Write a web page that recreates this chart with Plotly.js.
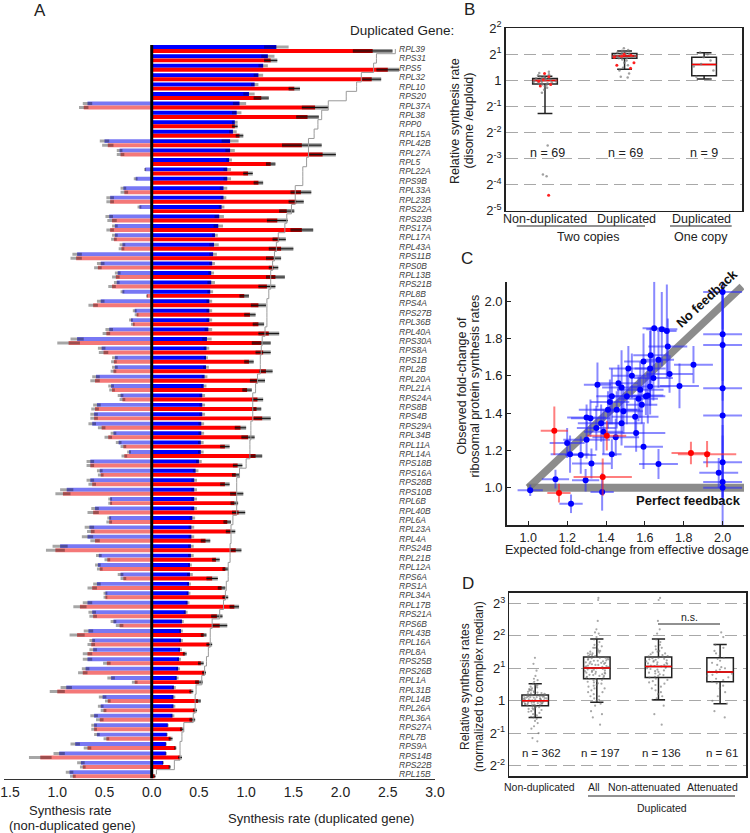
<!DOCTYPE html>
<html><head><meta charset="utf-8">
<script src="https://cdn.plot.ly/plotly-3.0.1.min.js"></script>
<style>html,body{margin:0;padding:0;background:#fff}#chart{width:750px;height:833px}</style>
</head><body><div id="chart"></div>
<script>
// ---------- Panel A data ----------
const genes = ["RPL39","RPS31","RPS5","RPL32","RPL10","RPS20","RPL37A","RPL38","RPP0","RPL15A","RPL42B","RPL27A","RPL5","RPL22A","RPS9B","RPL33A","RPL23B","RPS22A","RPS23B","RPS17A","RPL17A","RPL43A","RPS11B","RPS0B","RPL13B","RPS21B","RPL8B","RPS4A","RPS27B","RPL36B","RPL40A","RPS30A","RPS8A","RPS1B","RPL2B","RPL20A","RPL21A","RPS24A","RPS8B","RPS4B","RPS29A","RPL34B","RPL11A","RPL14A","RPS18B","RPS16A","RPS28B","RPS10B","RPL6B","RPL40B","RPL6A","RPL23A","RPL4A","RPS24B","RPL21B","RPL12A","RPS6A","RPS1A","RPL34A","RPL17B","RPS21A","RPS6B","RPL43B","RPL16A","RPL8A","RPS25B","RPS26B","RPL1A","RPL31B","RPL14B","RPL26A","RPL36A","RPS27A","RPL7B","RPS9A","RPS14B","RPS22B","RPL15B"];
const dupBlue = [1.32,1.23,1.18,1.13,1.09,1.03,0.93,0.90,0.88,0.86,0.83,0.83,0.82,0.80,0.80,0.76,0.76,0.74,0.715,0.705,0.67,0.66,0.65,0.64,0.63,0.63,0.62,0.61,0.61,0.61,0.60,0.585,0.58,0.575,0.575,0.56,0.55,0.535,0.535,0.535,0.525,0.525,0.52,0.52,0.50,0.465,0.45,0.45,0.45,0.45,0.43,0.42,0.42,0.415,0.415,0.405,0.405,0.395,0.39,0.38,0.36,0.32,0.31,0.31,0.30,0.29,0.28,0.265,0.235,0.23,0.23,0.22,0.17,0.16,0.15,0.15,0.12,0.0];
const dupRed = [2.34,1.26,2.50,2.33,1.51,1.16,1.73,1.65,0.88,0.93,1.59,1.81,1.26,1.02,1.13,1.58,1.53,1.43,1.33,1.59,1.35,1.37,1.29,1.29,1.31,1.22,0.98,1.13,1.04,1.13,1.24,1.16,1.18,1.03,1.21,1.12,1.01,1.12,1.11,1.17,0.94,1.02,0.775,1.10,0.91,0.89,0.775,0.90,0.875,0.92,0.80,0.835,0.57,0.89,0.68,0.78,0.64,0.74,0.78,0.875,0.69,0.72,0.55,0.61,0.35,0.52,0.555,0.50,0.42,0.49,0.46,0.43,0.32,0.20,0.25,0.30,0.19,0.03];
const dupBlueErr = [0.13,0.07,0.05,0.05,0.04,0.06,0.07,0.05,0.03,0.04,0.09,0.05,0.03,0.04,0.04,0.04,0.03,0.03,0.05,0.05,0.03,0.05,0.04,0.03,0.03,0.04,0.03,0.03,0.03,0.03,0.04,0.05,0.03,0.02,0.03,0.03,0.03,0.03,0.03,0.03,0.03,0.03,0.03,0.03,0.03,0.03,0.03,0.03,0.03,0.03,0.03,0.03,0.03,0.03,0.03,0.02,0.03,0.02,0.02,0.02,0.02,0.02,0.02,0.02,0.02,0.02,0.02,0.02,0.02,0.02,0.02,0.02,0.01,0.01,0.01,0.01,0.01,0.0];
const dupRedErr = [0.21,0.07,0.12,0.10,0.06,0.08,0.14,0.12,0.03,0.04,0.21,0.14,0.05,0.05,0.05,0.11,0.08,0.08,0.11,0.12,0.07,0.13,0.08,0.05,0.10,0.09,0.05,0.08,0.06,0.06,0.11,0.10,0.08,0.05,0.07,0.08,0.05,0.06,0.05,0.09,0.06,0.07,0.05,0.07,0.05,0.04,0.05,0.07,0.04,0.07,0.04,0.05,0.05,0.06,0.04,0.03,0.06,0.04,0.03,0.05,0.06,0.08,0.03,0.03,0.02,0.03,0.02,0.04,0.02,0.03,0.02,0.03,0.02,0.02,0.01,0.02,0.01,0.01];
const nonBlue = [0,0,0,0,0,0,0.68,0,0,0.01,0.50,0.34,0,0.07,0.17,0.30,0.44,0.13,0.45,0.39,0.39,0.31,0.79,0.54,0.36,0.37,0.31,0.54,0.18,0.22,0.45,0.79,0.53,0.39,0.39,0.59,0.43,0.33,0.58,0.61,0.63,0.405,0.35,0.24,0.65,0.55,0.65,0.90,0.44,0.60,0.45,0.66,0.68,0.97,0.56,0.57,0.33,0.58,0.49,0.68,0.63,0.405,0.67,0.63,0.62,0.68,0.70,0.43,0.905,0.52,0.54,0.61,0.61,0.58,0.81,0.98,0.75,0.87];
const nonRed = [0,0,0,0,0,0,0.72,0,0,0,0.465,0.33,0,0,0,0.29,0.44,0,0.42,0.44,0.40,0.32,0.80,0.57,0.38,0.42,0.05,0.62,0.16,0.20,0.48,0.88,0.51,0.40,0.405,0.60,0.42,0.31,0.60,0.61,0.53,0.46,0.30,0.29,0.65,0.54,0.63,0.94,0.44,0.62,0.45,0.645,0.60,1.02,0.47,0.55,0.30,0.63,0.49,0.76,0.62,0.34,0.79,0.64,0.68,0.475,0.73,0.18,1.0,0.465,0.51,0.55,0.61,0.48,0.68,1.18,0.73,0.835];
const nonBlueErr = [0,0,0,0,0,0,0.05,0,0,0,0.05,0.03,0,0.01,0.02,0.03,0.04,0.02,0.04,0.03,0.03,0.03,0.05,0.04,0.03,0.03,0.02,0.04,0.02,0.02,0.04,0.07,0.04,0.03,0.03,0.04,0.03,0.03,0.04,0.04,0.04,0.03,0.03,0.02,0.04,0.03,0.04,0.07,0.02,0.04,0.02,0.05,0.06,0.08,0.03,0.03,0.03,0.04,0.02,0.05,0.04,0.03,0.05,0.03,0.04,0.05,0.04,0.04,0.06,0.04,0.03,0.04,0.03,0.03,0.05,0.06,0.04,0.04];
const nonRedErr = [0,0,0,0,0,0,0.05,0,0,0,0.06,0.04,0,0,0,0.04,0.04,0,0.05,0.04,0.03,0.03,0.06,0.04,0.04,0.04,0.01,0.05,0.02,0.02,0.04,0.12,0.05,0.03,0.03,0.05,0.03,0.03,0.04,0.04,0.04,0.04,0.03,0.03,0.04,0.03,0.04,0.08,0.02,0.06,0.03,0.04,0.05,0.10,0.03,0.03,0.03,0.05,0.02,0.07,0.04,0.04,0.08,0.04,0.05,0.04,0.05,0.03,0.08,0.03,0.03,0.04,0.03,0.03,0.04,0.12,0.03,0.03];
const grayLine = [2.58,2.38,2.35,2.22,2.17,2.06,1.87,1.80,1.76,1.72,1.66,1.66,1.64,1.60,1.60,1.52,1.52,1.48,1.43,1.41,1.34,1.32,1.30,1.28,1.26,1.26,1.24,1.22,1.22,1.22,1.20,1.17,1.16,1.15,1.15,1.12,1.10,1.07,1.07,1.07,1.05,1.05,1.04,1.04,1.00,0.93,0.90,0.90,0.90,0.90,0.86,0.84,0.84,0.83,0.83,0.81,0.81,0.79,0.78,0.76,0.72,0.64,0.62,0.62,0.60,0.58,0.56,0.53,0.47,0.46,0.46,0.44,0.34,0.32,0.30,0.30,0.24,0.05];
const aTickVals = [-1.5,-1,-0.5,0,0.5,1,1.5,2,2.5,3];
const aTickText = ["1.5","1.0","0.5","0.0","0.5","1.0","1.5","2.0","2.5","3.0"];

// ---------- Panel B data ----------
const bCats = ["Non-duplicated","Duplicated","Duplicated (one copy)"];
const bLabels = ["Non-duplicated","Duplicated","Duplicated"];
const bQ1 = [0.91,1.80,1.13];
const bMed = [1.0,1.91,1.53];
const bQ3 = [1.05,2.05,1.85];
const bLo = [0.415,1.35,1.04];
const bHi = [1.12,2.18,2.09];
const bNonDupPts = [1.26,1.22,1.18,1.15,1.12,1.10,1.08,1.07,1.06,1.05,1.04,1.03,1.02,1.01,1.0,1.0,0.99,0.98,0.97,0.96,0.95,0.94,0.93,0.92,0.90,0.88,0.85,0.82,0.78,0.72,0.177,0.082,0.078];
const bNonDupRed = [1.2,1.1,1.02,0.98,0.9,0.86,0.047];
const bDupPts = [2.35,2.25,2.2,2.15,2.1,2.08,2.05,2.03,2.0,1.98,1.96,1.94,1.92,1.9,1.88,1.86,1.84,1.82,1.8,1.75,1.7,1.6,1.5,1.4,1.3,1.2,1.1,1.08];
const bDupRed = [2.0,1.95,1.9,1.85,1.6,1.5,1.38];
const bOnePts = [2.1,2.0,1.85,1.7,1.55,1.45,1.3,1.1,1.04];
const logTickVals = [1/32,1/16,1/8,1/4,1/2,1,2,4,8];
const logTickText = ["2<sup>-5</sup>","2<sup>-4</sup>","2<sup>-3</sup>","2<sup>-2</sup>","2<sup>-1</sup>","1","2<sup>1</sup>","2<sup>2</sup>","2<sup>3</sup>"];

// ---------- Panel C data ----------
const cBlueX = [1.01,1.14,1.22,1.20,1.215,1.27,1.295,1.325,1.38,1.30,1.30,1.32,1.356,1.35,1.375,1.43,1.45,1.41,1.43,1.464,1.48,1.455,1.49,1.507,1.533,1.555,1.567,1.576,1.593,1.593,1.605,1.615,1.627,1.627,1.63,1.648,1.687,1.67,1.718,1.713,1.727,1.778,1.85,2.0,2.0,2.0,2.0,2.0,2.0,2.0,2.0,1.98,1.515,1.55,1.42,1.48,1.67,1.644,1.584,1.387];
const cBlueY = [0.986,1.046,0.914,1.24,1.18,1.175,1.04,1.13,0.977,1.257,1.377,1.373,1.552,1.32,1.346,1.18,1.27,1.418,1.49,1.56,1.537,1.418,1.41,1.49,1.60,1.293,1.477,1.525,1.22,1.677,1.49,1.495,1.543,1.64,1.71,1.855,1.85,1.127,1.757,1.84,1.61,1.546,1.66,2.05,1.823,1.766,1.534,1.387,1.136,1.03,1.0,1.08,1.64,1.38,1.46,1.346,1.686,1.588,1.445,1.30];
const cBlueXErr = [0.065,0.07,0.06,0.09,0.1,0.08,0.07,0.1,0.06,0.12,0.1,0.1,0.07,0.1,0.12,0.05,0.12,0.15,0.08,0.1,0.1,0.12,0.1,0.1,0.1,0.15,0.1,0.12,0.1,0.1,0.1,0.08,0.1,0.08,0.09,0.06,0.08,0.1,0.1,0.05,0.12,0.1,0.1,0.1,0.1,0.1,0.1,0.1,0.1,0.1,0.1,0.1,0.1,0.12,0.1,0.12,0.08,0.1,0.08,0.1];
const cBlueYErr = [0.03,0.05,0.05,0.08,0.1,0.1,0.06,0.08,0.1,0.1,0.07,0.1,0.12,0.12,0.1,0.08,0.1,0.1,0.15,0.1,0.2,0.1,0.12,0.15,0.12,0.1,0.12,0.15,0.12,0.15,0.1,0.15,0.15,0.2,0.15,0.25,0.2,0.08,0.15,0.25,0.1,0.12,0.1,0.2,0.25,0.3,0.6,0.4,0.2,0.25,0.05,0.08,0.12,0.1,0.12,0.12,0.15,0.12,0.1,0.12];
const cRedX = [1.134,1.158,1.383,1.404,1.837,1.92];
const cRedY = [1.305,0.971,1.057,1.279,1.186,1.18];
const cRedXErr = [0.07,0.06,0.15,0.1,0.1,0.15];
const cRedYErr = [0.13,0.05,0.1,0.08,0.06,0.07];
const cTicks = [1.0,1.2,1.4,1.6,1.8,2.0];

// ---------- Panel D data ----------
const dCats = ["Non-duplicated","All","Non-attenuated","Attenuated"];
const dQ1 = [0.899,1.60,1.64,1.50];
const dMed = [1.0,2.01,2.08,1.85];
const dQ3 = [1.129,2.55,2.55,2.50];
const dLo = [0.70,0.97,1.02,0.94];
const dHi = [1.44,3.73,3.73,3.32];
const dNonDupPts = [2.5,2.2,1.9,1.7,1.6,1.55,1.5,1.44,1.42,1.4,1.38,1.35,1.33,1.3,1.28,1.27,1.25,1.24,1.22,1.21,1.2,1.19,1.18,1.17,1.16,1.15,1.14,1.14,1.13,1.13,1.12,1.12,1.11,1.11,1.1,1.1,1.09,1.09,1.08,1.08,1.07,1.07,1.06,1.06,1.05,1.05,1.04,1.04,1.03,1.03,1.02,1.02,1.01,1.01,1.0,1.0,1.0,0.99,0.99,0.98,0.98,0.97,0.97,0.96,0.96,0.95,0.95,0.94,0.94,0.93,0.93,0.92,0.92,0.91,0.9,0.9,0.89,0.88,0.87,0.86,0.85,0.84,0.83,0.82,0.8,0.79,0.77,0.75,0.73,0.71,0.7,0.68,0.65,0.62,0.58,0.55,0.5,0.45,0.42];
const dNonAttPts = [9.0,8.6,5.5,4.6,4.2,3.7,3.5,3.3,3.2,3.1,3.0,2.9,2.85,2.8,2.75,2.7,2.65,2.6,2.58,2.55,2.5,2.48,2.45,2.42,2.4,2.37,2.35,2.32,2.3,2.27,2.25,2.22,2.2,2.18,2.15,2.12,2.1,2.08,2.06,2.04,2.02,2.0,1.97,1.94,1.91,1.88,1.85,1.82,1.79,1.76,1.73,1.7,1.67,1.64,1.6,1.56,1.52,1.48,1.44,1.4,1.35,1.3,1.25,1.2,1.15,1.1,1.05,1.02,0.9,0.75,0.6];
const dAttPts = [4.3,3.9,3.3,3.1,2.9,2.75,2.6,2.5,2.45,2.35,2.25,2.15,2.05,2.0,1.95,1.9,1.85,1.82,1.78,1.74,1.7,1.65,1.6,1.55,1.5,1.45,1.38,1.3,1.2,1.1,1.0,0.94,0.8,0.7];
const dAllPts = dNonAttPts.concat(dAttPts);
const dTickVals = [1/4,1/2,1,2,4,8];
const dTickText = ["2<sup>-2</sup>","2<sup>-1</sup>","1","2<sup>1</sup>","2<sup>2</sup>","2<sup>3</sup>"];

// ---------- helpers ----------
const W = 750, H = 833;
const PX = p => p / W;
const PY = p => 1 - p / H;
const FONT = "Liberation Sans, Arial, sans-serif";
const TXT = "#222";
const rows = genes.map((g, i) => i + 1);
function ann(text, px, py, size, extra) {
  return Object.assign({text: text, x: PX(px), y: PY(py), xref: "paper", yref: "paper",
    showarrow: false, xanchor: "center", yanchor: "middle", font: {size: size, color: TXT, family: FONT}}, extra || {});
}
function pline(x0, y0, x1, y1, w, c) {
  return {type: "line", xref: "paper", yref: "paper", x0: PX(x0), y0: PY(y0), x1: PX(x1), y1: PY(y1),
    line: {color: c || "#222", width: w || 1}};
}
const rep = (arr, v) => arr.map(() => v);

const traces = [];
// Panel A bars
const barCommon = {type: "bar", orientation: "h", y: rows, xaxis: "x", yaxis: "y", hoverinfo: "skip"};
traces.push(Object.assign({}, barCommon, {x: nonBlue.map(v => -v), offset: -0.43, width: 0.42,
  marker: {color: "#7878f4", line: {width: 0}},
  error_x: {type: "data", array: nonBlueErr, color: "rgba(0,0,0,0.35)", thickness: 3, width: 0}}));
traces.push(Object.assign({}, barCommon, {x: nonRed.map(v => -v), offset: 0, width: 0.42,
  marker: {color: "#f47878", line: {width: 0}},
  error_x: {type: "data", array: nonRedErr, color: "rgba(0,0,0,0.35)", thickness: 3, width: 0}}));
traces.push(Object.assign({}, barCommon, {x: dupBlue, offset: -0.43, width: 0.42,
  marker: {color: "#0000ff", line: {width: 0}},
  error_x: {type: "data", array: dupBlueErr, color: "rgba(0,0,0,0.35)", thickness: 3, width: 0}}));
traces.push(Object.assign({}, barCommon, {x: dupRed, offset: 0, width: 0.42,
  marker: {color: "#ff0000", line: {width: 0}},
  error_x: {type: "data", array: dupRedErr, color: "rgba(0,0,0,0.4)", thickness: 4, width: 0}}));
traces.push(Object.assign({}, barCommon, {x: dupRed, offset: 0, width: 0.42,
  marker: {color: "rgba(0,0,0,0)", line: {width: 0}},
  error_x: {type: "data", array: dupRedErr, color: "#111", thickness: 1, width: 0}}));
traces.push({type: "scatter", mode: "lines", x: grayLine, y: rows, xaxis: "x", yaxis: "y",
  line: {color: "#9a9a9a", width: 1, shape: "vhv"}, hoverinfo: "skip"});

// Panel B boxes
const boxBase = {type: "box", xaxis: "x2", yaxis: "y2", hoverinfo: "skip", boxpoints: false};
traces.push(Object.assign({}, boxBase, {x: bCats, q1: bQ1, median: bMed, q3: bQ3, lowerfence: bLo, upperfence: bHi,
  width: 0.31, whiskerwidth: 0.6, fillcolor: "white", line: {color: "#222", width: 1.5}}));
traces.push(Object.assign({}, boxBase, {x: bCats, q1: bMed, median: bMed, q3: bMed, lowerfence: bMed, upperfence: bMed,
  width: 0.31, whiskerwidth: 0, fillcolor: "rgba(0,0,0,0)", line: {color: "#ff0000", width: 1.5}}));
const ptsBase = {type: "box", boxpoints: "all", jitter: 1, pointpos: 0, hoverinfo: "skip",
  fillcolor: "rgba(0,0,0,0)", line: {width: 0, color: "rgba(0,0,0,0)"}};
[[bNonDupPts, bCats[0]], [bDupPts, bCats[1]], [bOnePts, bCats[2]]].forEach(([arr, c]) => {
  traces.push(Object.assign({}, ptsBase, {xaxis: "x2", yaxis: "y2", y: arr, x: rep(arr, c), width: 0.31,
    marker: {size: 2.5, color: "rgba(120,120,120,0.7)"}}));
});
[[bNonDupRed, bCats[0]], [bDupRed, bCats[1]]].forEach(([arr, c]) => {
  traces.push(Object.assign({}, ptsBase, {xaxis: "x2", yaxis: "y2", y: arr, x: rep(arr, c), width: 0.31,
    marker: {size: 3, color: "#ff2020"}}));
});

// Panel C scatter
traces.push({type: "scatter", mode: "markers", x: cBlueX, y: cBlueY, xaxis: "x3", yaxis: "y3", hoverinfo: "skip",
  marker: {color: "#0000ff", size: 6},
  error_x: {type: "data", array: cBlueXErr, color: "rgba(40,40,255,0.55)", thickness: 2, width: 0},
  error_y: {type: "data", array: cBlueYErr, color: "rgba(40,40,255,0.55)", thickness: 2, width: 0}});
traces.push({type: "scatter", mode: "markers", x: cRedX, y: cRedY, xaxis: "x3", yaxis: "y3", hoverinfo: "skip",
  marker: {color: "#ff0000", size: 6},
  error_x: {type: "data", array: cRedXErr, color: "rgba(255,40,40,0.6)", thickness: 2, width: 0},
  error_y: {type: "data", array: cRedYErr, color: "rgba(255,40,40,0.6)", thickness: 2, width: 0}});

// Panel D boxes
traces.push(Object.assign({}, boxBase, {xaxis: "x4", yaxis: "y4", x: dCats, q1: dQ1, median: dMed, q3: dQ3,
  lowerfence: dLo, upperfence: dHi, width: 0.43, whiskerwidth: 0.5, fillcolor: "white", line: {color: "#222", width: 1.5}}));
[[dNonDupPts, dCats[0]], [dAllPts, dCats[1]], [dNonAttPts, dCats[2]], [dAttPts, dCats[3]]].forEach(([arr, c]) => {
  traces.push(Object.assign({}, ptsBase, {xaxis: "x4", yaxis: "y4", y: arr, x: rep(arr, c), width: 0.43,
    marker: {size: 2.2, color: "rgba(110,110,110,0.6)"}}));
});
traces.push(Object.assign({}, boxBase, {xaxis: "x4", yaxis: "y4", x: dCats, q1: dMed, median: dMed, q3: dMed,
  lowerfence: dMed, upperfence: dMed, width: 0.43, whiskerwidth: 0, fillcolor: "rgba(0,0,0,0)", line: {color: "#ff0000", width: 1.5}}));

// ---------- layout ----------
const annotations = [];
genes.forEach((g, i) => annotations.push({text: "<i>" + g + "</i>", x: 2.6, y: i + 1, xref: "x", yref: "y",
  xanchor: "left", yanchor: "middle", showarrow: false, font: {size: 8.5, color: "#444", family: FONT}}));
annotations.push(ann("Duplicated Gene:", 348, 31, 13.5, {xanchor: "left"}));
annotations.push(ann("A", 40, 11, 17));
annotations.push(ann("Synthesis rate", 70, 810, 13));
annotations.push(ann("(non-duplicated gene)", 72, 825, 13));
annotations.push(ann("Synthesis rate (duplicated gene)", 321, 818, 13));
// B
annotations.push(ann("B", 469, 9, 17));
annotations.push(ann("Relative synthesis rate", 455, 121, 12.5, {textangle: -90}));
annotations.push(ann("(disome /euploid)", 468.5, 121, 12.5, {textangle: -90}));
annotations.push(ann("n = 69", 547, 153, 12.5));
annotations.push(ann("n = 69", 625, 153, 12.5));
annotations.push(ann("n = 9", 704, 153, 12.5));
[545, 626, 701].forEach((px, i) => annotations.push(ann(bLabels[i], px, 219, 12.5)));
annotations.push(ann("Two copies", 588, 237.5, 12.5));
annotations.push(ann("One copy", 701, 237.5, 12.5));
// C
annotations.push(ann("C", 467, 258, 17));
annotations.push(ann("Observed fold-change of", 461.5, 386, 12.5, {textangle: -90}));
annotations.push(ann("ribosomal protein synthesis rates", 474.5, 386, 12.5, {textangle: -90}));
annotations.push(ann("Expected fold-change from effective dosage", 626.5, 550, 12.5));
annotations.push({text: "<b>No feedback</b>", x: 1.918, y: 2.015, xref: "x3", yref: "y3", showarrow: false,
  textangle: -43, font: {size: 13, color: "#111", family: FONT}});
annotations.push({text: "<b>Perfect feedback</b>", x: 1.824, y: 0.93, xref: "x3", yref: "y3", showarrow: false,
  font: {size: 13, color: "#111", family: FONT}});
// D
annotations.push(ann("D", 468, 583, 17));
annotations.push(ann("Relative synthesis rates", 465, 687, 12, {textangle: -90}));
annotations.push(ann("(normalized to complex median)", 479, 687, 12, {textangle: -90}));
annotations.push(ann("n = 362", 541.5, 752.5, 11.5));
annotations.push(ann("n = 197", 600, 752.5, 11.5));
annotations.push(ann("n = 136", 661, 752.5, 11.5));
annotations.push(ann("n = 61", 722, 752.5, 11.5));
annotations.push(ann("n.s.", 689, 616.5, 10.5));
[539, 594, 644, 712].forEach((px, i) => annotations.push(ann(dCats[i], px, 787, 10.5)));
annotations.push(ann("Duplicated", 662, 807.5, 10.5));

const shapes = [
  {type: "line", xref: "x", yref: "y", x0: 0, x1: 0, y0: 0.57, y1: 78.45, line: {color: "#000", width: 3}, layer: "above"},
  {type: "line", xref: "x3", yref: "y3", x0: 1.0, y0: 1.0, x1: 2.1, y1: 2.08, line: {color: "rgba(120,120,120,0.85)", width: 7.5}, layer: "below"},
  {type: "line", xref: "x3", yref: "y3", x0: 0.995, y0: 1.0, x1: 2.11, y1: 1.0, line: {color: "rgba(120,120,120,0.85)", width: 8}, layer: "below"},
  pline(516.7, 226, 645, 226, 1),
  pline(670, 226, 731.7, 226, 1),
  pline(658, 624, 720, 624, 1),
  pline(588, 796, 735, 796, 1)
];

const axBox = {showline: true, mirror: true, linecolor: "#222", linewidth: 1.5, zeroline: false, ticks: ""};
const layout = {
  width: W, height: H, margin: {l: 0, r: 0, t: 0, b: 0}, paper_bgcolor: "#fff", plot_bgcolor: "rgba(0,0,0,0)",
  showlegend: false, barmode: "overlay", boxmode: "overlay",
  font: {family: FONT, color: TXT},
  xaxis: {domain: [PX(4.4), PX(435)], range: [-1.56, 3.0], tickmode: "array", tickvals: aTickVals, ticktext: aTickText,
    tickfont: {size: 14, color: TXT}, showline: true, linecolor: "#333", linewidth: 1.5, ticks: "",
    showgrid: false, zeroline: false, anchor: "y"},
  yaxis: {domain: [PY(778.6), PY(43.8)], range: [78.45, 0.45], showticklabels: false, showgrid: false,
    zeroline: false, showline: false, ticks: "", anchor: "x"},
  xaxis2: Object.assign({}, axBox, {domain: [PX(505.7), PX(742.3)], type: "category", categoryorder: "array",
    categoryarray: bCats, range: [-0.494, 2.48], showticklabels: false, showgrid: false, anchor: "y2"}),
  yaxis2: Object.assign({}, axBox, {domain: [PY(210.7), PY(28.3)], type: "log",
    range: [Math.log10(1/32), Math.log10(4)], tickmode: "array", tickvals: logTickVals, ticktext: logTickText,
    tickfont: {size: 13, color: TXT}, showgrid: true, gridcolor: "#a8a8a8", griddash: "12px,6px", gridwidth: 1, anchor: "x2"}),
  xaxis3: {domain: [PX(506.7), PX(744)], range: [0.889, 2.11], tickmode: "array", tickvals: cTicks, tickformat: ".1f",
    ticks: "inside", ticklen: 4, tickcolor: "#222", showline: true, linecolor: "#222", linewidth: 1.5,
    showgrid: false, zeroline: false, tickfont: {size: 12.5, color: TXT}, anchor: "y3"},
  yaxis3: {domain: [PY(525), PY(281.7)], range: [0.80, 2.105], tickmode: "array", tickvals: cTicks, tickformat: ".1f",
    ticks: "inside", ticklen: 4, tickcolor: "#222", showline: true, linecolor: "#222", linewidth: 1.5,
    showgrid: false, zeroline: false, tickfont: {size: 13, color: TXT}, anchor: "x3"},
  xaxis4: Object.assign({}, axBox, {domain: [PX(509.3), PX(746)], type: "category", categoryorder: "array",
    categoryarray: dCats, range: [-0.42, 3.42], showticklabels: false, showgrid: false, anchor: "y4"}),
  yaxis4: Object.assign({}, axBox, {domain: [PY(776), PY(592.7)], type: "log",
    range: [-2.32 * Math.log10(2), 3.33 * Math.log10(2)], tickmode: "array", tickvals: dTickVals, ticktext: dTickText,
    tickfont: {size: 13, color: TXT}, showgrid: true, gridcolor: "#a8a8a8", griddash: "12px,6px", gridwidth: 1, anchor: "x4"}),
  annotations: annotations,
  shapes: shapes
};

Plotly.newPlot("chart", traces, layout, {staticPlot: true, displayModeBar: false});
</script>
</body></html>
